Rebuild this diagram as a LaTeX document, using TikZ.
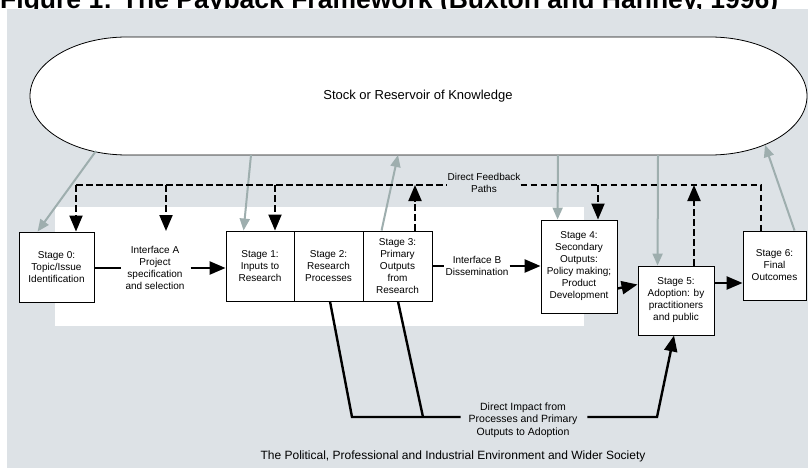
\documentclass[tikz,border=0pt]{standalone}
\usepackage{fontspec}
\setmainfont{Liberation Sans}
\usetikzlibrary{arrows.meta}
\definecolor{bgc}{RGB}{221,226,230}
\definecolor{kgray}{RGB}{158,174,174}
\begin{document}
\begin{tikzpicture}[x=1pt,y=-1pt,
 stagebox/.style={draw=black,line width=0.9pt,fill=white,align=center,inner sep=1pt,font=\fontsize{10}{12}\selectfont},
 lbl/.style={align=center,inner sep=0pt,font=\fontsize{10}{12}\selectfont},
 solidline/.style={line width=2.4pt},
 solidarrow/.style={line width=2.4pt,-{Triangle[length=16pt,width=13pt]}},
 dashline/.style={line width=2pt,dash pattern=on 6.5pt off 3.5pt},
 dasharrow/.style={dashline,-{Triangle[length=16pt,width=13pt]}},
 garrow/.style={draw=kgray,line width=2pt,-{Triangle[length=12pt,width=10pt]}},
]
\clip (0,0) rectangle (808,468);
% title (clipped)
\node[anchor=base west,inner sep=0pt,font=\bfseries\fontsize{26.5}{26.5}\selectfont] (title) at (0,8.5) {Figure 1: The Payback Framework (Buxton and Hanney, 1996)};
% background
\fill[bgc] (7,9) rectangle (808,468);
\fill[white] (55,207) rectangle (584,326);
% knowledge stock
\draw[fill=white,line width=0.8pt] (127,37) -- (710,37) arc[start angle=-90,end angle=90,x radius=97,y radius=59] -- (127,155) arc[start angle=90,end angle=270,x radius=97,y radius=59] -- cycle;
\node[font=\fontsize{13}{15}\selectfont,inner sep=0pt] (kn) at (418,96) {Stock or Reservoir of Knowledge};
\coordinate (k0) at (96,151);
\coordinate (k1) at (251,155);
\coordinate (k3) at (398,155);
\coordinate (k4) at (558,155);
\coordinate (k5) at (658,155);
\coordinate (k6) at (765,145);
% stages
\node[stagebox,minimum width=75pt,minimum height=70pt] (s0) at (56.5,267) {Stage 0:\\Topic/Issue\\Identification};
\node[stagebox,minimum width=68pt,minimum height=70pt] (s1) at (260,266) {Stage 1:\\Inputs to\\Research};
\node[stagebox,minimum width=69pt,minimum height=70pt] (s2) at (328.5,266) {Stage 2:\\Research\\Processes};
\node[stagebox,minimum width=69pt,minimum height=70pt] (s3) at (397.5,266) {Stage 3:\\Primary\\Outputs\\from\\Research};
\node[stagebox,minimum width=76pt,minimum height=93pt] (s4) at (579,266.5) {Stage 4:\\Secondary\\Outputs:\\Policy making;\\Product\\Development};
\node[stagebox,minimum width=76pt,minimum height=69pt] (s5) at (676,300.5) {Stage 5:\\Adoption: by\\practitioners\\and public};
\node[stagebox,minimum width=63pt,minimum height=69pt] (s6) at (774.5,265.5) {Stage 6:\\Final\\Outcomes};
% labels
\node[lbl] (ia) at (155,268) {Interface A\\Project\\specification\\and selection};
\node[lbl] (ib) at (477,266) {Interface B\\Dissemination};
\node[lbl] (fbl) at (484,183) {Direct Feedback\\Paths};
\node[lbl,font=\fontsize{10.5}{12.5}\selectfont] (di) at (523,420) {Direct Impact from\\Processes and Primary\\Outputs to Adoption};
\node[lbl,font=\fontsize{12}{14}\selectfont] (env) at (453,456) {The Political, Professional and Industrial Environment and Wider Society};
% knowledge arrows
\draw[garrow] (k0) -- ([xshift=19pt]s0.north west);
\draw[garrow] (k1) -- ([xshift=18pt]s1.north west);
\draw[garrow] ([xshift=19pt]s3.north west) -- (k3);
\draw[garrow] (k4) -- ([xshift=17pt]s4.north west);
\draw[garrow] (k5) -- ([xshift=20pt]s5.north west);
\draw[garrow] ([xshift=52pt]s6.north west) -- (k6);
% feedback paths
\coordinate (d0) at (76,185);
\coordinate (dA) at (166,185);
\coordinate (d1) at (275,185);
\coordinate (d3) at (415,185);
\coordinate (d4) at (598,185);
\coordinate (d5) at (694,185);
\coordinate (d6) at (761,185);
\coordinate (tA) at (166,231);
\draw[dashline] (d0) -- (fbl.west |- d0);
\draw[dashline] (fbl.east |- d6) -- (d6) -- (s6.north -| d6);
\draw[dasharrow] (d0) -- (s0.north -| d0);
\draw[dasharrow] (dA) -- (tA);
\draw[dasharrow] (d1) -- (s1.north -| d1);
\draw[dasharrow] (d4) -- (s4.north -| d4);
\draw[dasharrow] (s3.north -| d3) -- (d3);
\draw[dasharrow] (s5.north -| d5) -- (d5);
% main flow
\coordinate (iaw) at ([xshift=-4pt]ia.west);
\coordinate (iae) at ([xshift=6pt]ia.east);
\draw[solidline] (s0.east |- ia) -- (iaw |- ia);
\draw[solidarrow] (iae |- ia) -- (s1.west |- ia);
\coordinate (ibw) at ([xshift=-1pt]ib.west);
\coordinate (ibe) at ([xshift=1pt]ib.east);
\draw[solidline] (s3.east |- ib) -- (ibw |- ib);
\draw[solidarrow] (ibe |- ib) -- (s4.west |- ib);
\draw[solidarrow] ([yshift=-22pt]s4.east) -- ([yshift=16pt]s5.west);
\coordinate (p56) at ([yshift=17.5pt]s5.east);
\draw[solidarrow] (p56) -- (s6.west |- p56);
% direct impact
\coordinate (b2) at (352,417);
\coordinate (b3) at (423,417);
\coordinate (b5) at (657,417);
\coordinate (diw) at ([xshift=-8pt]di.west);
\coordinate (die) at ([xshift=10pt]di.east);
\draw[solidline] ([xshift=1.5pt]s2.south) -- (b2) -- (diw |- b2);
\draw[solidline] ([xshift=0.5pt]s3.south) -- (b3);
\draw[solidarrow] (die |- b5) -- (b5) -- ([xshift=-2pt]s5.south);
\end{tikzpicture}
\end{document}
